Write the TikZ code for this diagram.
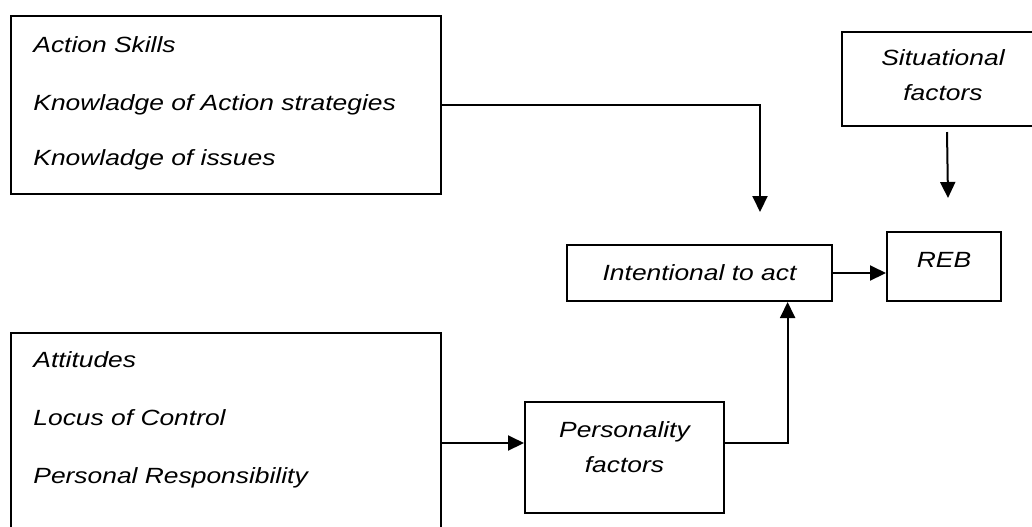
\documentclass[tikz,border=0pt]{standalone}
\usepackage{fontspec}
\setmainfont{Liberation Sans}[FakeStretch=1.2]
\usepackage{tikz}
\usetikzlibrary{positioning}
\usetikzlibrary{calc}
\usetikzlibrary{arrows.meta}
\tikzset{
  box/.style={draw,line width=1pt,inner sep=0pt},
  txt/.style={inner sep=0pt,font=\fontsize{11}{13}\selectfont\itshape},
  arr/.style={line width=1pt,-{Triangle[length=8pt,width=7.5pt]}}
}
\begin{document}
\begin{tikzpicture}[x=0.5pt,y=-0.5pt]
            \useasboundingbox (0,0) rectangle (1032,526);
            \node[box,minimum width=215pt,minimum height=89pt] (know) at (226,105) {};
            \node[box,minimum width=215pt,minimum height=110pt] (attit) at (226,443) {};
            \node[box,minimum width=101pt,minimum height=47pt] (sit) at (943,79) {};
            \node[box,minimum width=132.5pt,minimum height=28pt] (intent) at (699.5,273) {};
            \node[box,minimum width=57pt,minimum height=34.5pt] (reb) at (944,266.5) {};
            \node[box,minimum width=99.5pt,minimum height=55.5pt] (pers) at (624.5,457.5) {};
            \node[txt,anchor=base west] (skills) at (33,52) {Action Skills};
            \node[txt,anchor=base west] (strat) at (33,110) {Knowladge of Action strategies};
            \node[txt,anchor=base west] (issues) at (33,165) {Knowladge of issues};
            \node[txt,anchor=base west] (attitudes) at (33,367) {Attitudes};
            \node[txt,anchor=base west] (locus) at (33,425) {Locus of Control};
            \node[txt,anchor=base west] (resp) at (33,483) {Personal Responsibility};
            \node[txt,anchor=base] (sit1) at (943,65) {Situational};
            \node[txt,anchor=base] (sit2) at (943,100) {factors};
            \node[txt,anchor=base] (rebtxt) at (944,267) {REB};
            \node[txt,anchor=base] (intenttxt) at (699.5,280) {Intentional to act};
            \node[txt,anchor=base] (pers1) at (624.5,437) {Personality};
            \node[txt,anchor=base] (pers2) at (624.5,472) {factors};
            \coordinate (kin) at (760,212);
            \coordinate (sin) at (948,198);
            \draw[arr] (know.east) -| (kin);
            \draw[arr] ([xshift=2pt,yshift=-2.5pt]sit.south) -- (sin);
            \draw[arr] (intent.east) -- (intent.east -| reb.west);
            \draw[arr] (attit.east) -- (attit.east -| pers.west);
            \draw[arr] (pers.east |- attit.east) -| ($(intent.south west)!0.83!(intent.south east)$);
        \end{tikzpicture}
\end{document}
